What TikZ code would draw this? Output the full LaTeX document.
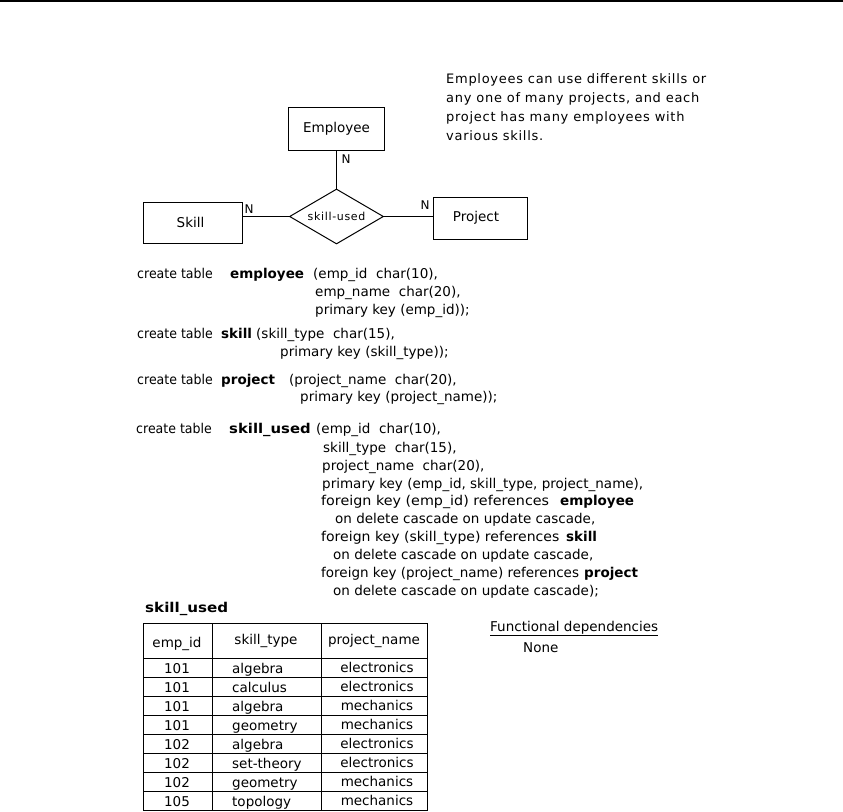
\documentclass[tikz,border=0pt]{standalone}
\usepackage{fontspec}
\setmainfont{DejaVu Sans}
\newfontfamily\widefont[LetterSpace=5.5]{DejaVu Sans}
\newfontfamily\relfont[LetterSpace=6]{DejaVu Sans}
\newcommand\hsc[2]{\scalebox{#1}[1]{#2}}
\usetikzlibrary{shapes.geometric}
\begin{document}
\begin{tikzpicture}[x=1pt,y=-1pt,
  txt/.style={anchor=base west, inner sep=0pt, font=\fontsize{13.5}{16}\selectfont},
  bt/.style={anchor=base west, inner sep=0pt, font=\fontsize{13.5}{16}\selectfont\bfseries},
  ptxt/.style={anchor=base west, inner sep=0pt, font=\fontsize{13}{16}\widefont},
  ent/.style={draw, line width=1pt, inner sep=0pt, font=\fontsize{13.5}{16}\selectfont},
  rel/.style={draw, diamond, aspect=1.7, line width=1pt, inner sep=0pt, minimum width=94pt, minimum height=55pt, font=\fontsize{11}{13}\relfont},
  card/.style={inner sep=0pt, font=\fontsize{12}{14}\selectfont},
  cell/.style={anchor=base, inner sep=0pt, font=\fontsize{13.5}{16}\selectfont},
  cellw/.style={anchor=base west, inner sep=0pt, font=\fontsize{13.5}{16}\selectfont},
  conn/.style={line width=1pt},
  tline/.style={line width=1pt}]
\useasboundingbox (0,0) rectangle (843,811);
\fill[white] (0,0) rectangle (843,811);
% top rule
\draw[line width=2pt] (0,1) -- (843,1);

% ER diagram
\node[ent, minimum width=96pt, minimum height=43pt] (emp) at (336.5,128.5) {Employee};
\node[ent, minimum width=99pt, minimum height=41pt] (skill) at (192.5,222.5) {\hspace{-4pt}Skill};
\node[ent, minimum width=94pt, minimum height=42pt] (proj) at (480,218) {\hspace{-8pt}Project};
\node[rel] (su) at (336.5,216.5) {skill-used};
\draw[conn] (emp) -- (su);
\draw[conn] (su.west) -- (su.west -| skill.east);
\draw[conn] (su.east) -- (su.east -| proj.west);
\node[card] (n1) at (346,159) {N};
\node[card] (n2) at (249,209) {N};
\node[card] (n3) at (425,205) {N};

% description
\node[ptxt] (d1) at (446,83) {Employees can use different skills or};
\node[ptxt] (d2) at (446,102) {any one of many projects, and each};
\node[ptxt] (d3) at (446,121) {project has many employees with};
\node[ptxt] (d4) at (446,140) {various skills.};

% SQL
\node[txt] (s1a) at (137,278) {\hsc{0.93}{create table}};
\node[bt]  (s1b) at (230,278) {employee};
\node[txt] (s1c) at (313,278) {(emp\_id\ \ char(10),};
\node[txt] (s2)  at (315,296) {emp\_name\ \ char(20),};
\node[txt] (s3)  at (315,314) {primary key (emp\_id));};
\node[txt] (s4a) at (137,338) {\hsc{0.93}{create table}};
\node[bt]  (s4b) at (221,338) {skill};
\node[txt] (s4c) at (256,338) {(skill\_type\ \ char(15),};
\node[txt] (s5)  at (280,356) {primary key (skill\_type));};
\node[txt] (s6a) at (137,384) {\hsc{0.93}{create table}};
\node[bt]  (s6b) at (221,384) {project};
\node[txt] (s6c) at (289,384) {(project\_name\ \ char(20),};
\node[txt] (s7)  at (300,401) {primary key (project\_name));};
\node[txt] (s8a) at (136,433) {\hsc{0.93}{create table}};
\node[bt]  (s8b) at (229,433) {\hsc{1.1}{skill\_used}};
\node[txt] (s8c) at (316,433) {(emp\_id\ \ char(10),};
\node[txt] (s9)  at (323,452) {skill\_type\ \ char(15),};
\node[txt] (s10) at (322,470) {project\_name\ \ char(20),};
\node[txt] (s11) at (322,488) {primary key (emp\_id, skill\_type, project\_name),};
\node[txt] (s12a) at (321,505) {\hsc{1.06}{foreign key (emp\_id) references}};
\node[bt]  (s12b) at (560,505) {employee};
\node[txt] (s13) at (335,523) {on delete cascade on update cascade,};
\node[txt] (s14a) at (321,541) {\hsc{1.04}{foreign key (skill\_type) references}};
\node[bt]  (s14b) at (566,541) {skill};
\node[txt] (s15) at (333,559) {on delete cascade on update cascade,};
\node[txt] (s16a) at (321,577) {foreign key (project\_name) references};
\node[bt]  (s16b) at (584,577) {project};
\node[txt] (s17) at (333,595) {on delete cascade on update cascade);};

% table
\node[bt] (tt) at (145,612) {\hsc{1.12}{skill\_used}};
\draw[tline] (143,623) rectangle (427,810);
\draw[tline] (212,623) -- (212,810);
\draw[tline] (321,623) -- (321,810);
\draw[line width=0.7pt] (143,658) -- (427,658);
\foreach \y in {677,696,715,734,753,772,791}
  \draw[tline] (143,\y) -- (427,\y);
\node[cell] (h1) at (177,647) {emp\_id};
\node[cell] (h2) at (266,644) {skill\_type};
\node[cell] (h3) at (374,644) {project\_name};
\foreach \i/\e/\s/\p in {0/101/algebra/electronics,1/101/calculus/electronics,2/101/algebra/mechanics,3/101/geometry/mechanics,4/102/algebra/electronics,5/102/set-theory/electronics,6/102/geometry/mechanics,7/105/topology/mechanics}{
  \node[cell] (e\i) at (177,{673+19*\i}) {\e};
  \node[cellw] (k\i) at (232,{673+19*\i}) {\s};
  \node[cell] (p\i) at (377,{672+19*\i}) {\p};
}

% functional dependencies
\node[txt] (fd) at (490,631) {\underline{Functional dependencies}};
\node[txt] (none) at (523,652) {None};
\end{tikzpicture}
\end{document}
